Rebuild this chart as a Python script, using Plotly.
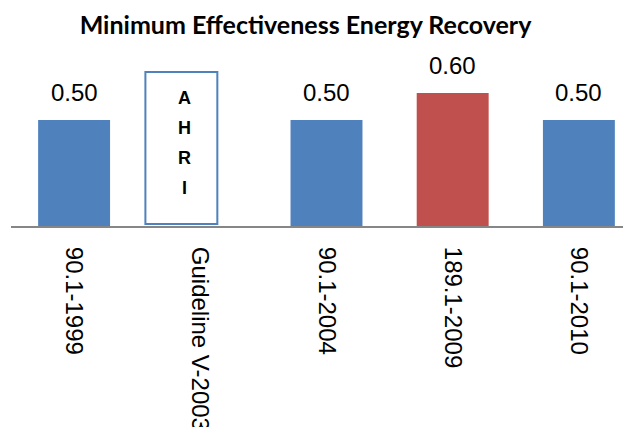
import plotly.graph_objects as go

categories = ["90.1-1999", "Guideline V-2003", "90.1-2004", "189.1-2009", "90.1-2010"]
values = [0.50, None, 0.50, 0.60, 0.50]
value_labels = ["0.50", "", "0.50", "0.60", "0.50"]
bar_colors = ["#4F81BD", "#4F81BD", "#4F81BD", "#C0504D", "#4F81BD"]

# outlined placeholder box for the AHRI guideline
box_category = ["Guideline V-2003"]
box_base = [0.115]
box_top = [0.678]
box_letters = ["A", "H", "R", "I"]
box_letter_values = [0.581, 0.470, 0.361, 0.250]

Y_MIN, Y_MAX = 0.1074, 0.7593

fig = go.Figure()
fig.add_trace(go.Bar(
    x=categories, y=values, marker=dict(color=bar_colors, line=dict(width=0)),
    width=0.57, showlegend=False, hoverinfo="skip",
))
fig.add_trace(go.Bar(
    x=box_category, y=[t - b for t, b in zip(box_top, box_base)], base=box_base,
    width=0.57, offset=-0.435,
    marker=dict(color="white", line=dict(color="#4F81BD", width=2)),
    showlegend=False, hoverinfo="skip",
))

for c, v, lab in zip(categories, values, value_labels):
    if v is None:
        continue
    fig.add_annotation(x=c, y=v, text=lab, showarrow=False, yanchor="middle",
                       yshift=28, font=dict(family="Liberation Sans", size=24, color="black"))

for letter, lv in zip(box_letters, box_letter_values):
    fig.add_annotation(x=1, y=lv, text="<b>" + letter + "</b>", showarrow=False,
                       xshift=-16, yanchor="middle",
                       font=dict(family="Liberation Sans", size=18, color="black"))

fig.update_layout(
    width=631, height=427,
    margin=dict(l=3, r=8, t=42, b=209, autoexpand=False),
    paper_bgcolor="white", plot_bgcolor="white",
    barmode="overlay",
    title=dict(text="<b>Minimum Effectiveness Energy Recovery</b>",
               x=297.5 / 631, xref="container", xanchor="center",
               y=1 - 17 / 427, yref="container", yanchor="middle",
               font=dict(family="Lato", size=25, color="black")),
    xaxis=dict(type="category", categoryorder="array", categoryarray=categories,
               range=[-0.5, 4.413], showline=True, linecolor="#868686", linewidth=2,
               showgrid=False, zeroline=False, ticks="", tickangle=90,
               ticklabelstandoff=14, automargin=False,
               tickfont=dict(family="Arial", size=24, color="black")),
    yaxis=dict(range=[Y_MIN, Y_MAX], visible=False, showgrid=False, zeroline=False,
               automargin=False),
)

fig.write_html("out.html")
